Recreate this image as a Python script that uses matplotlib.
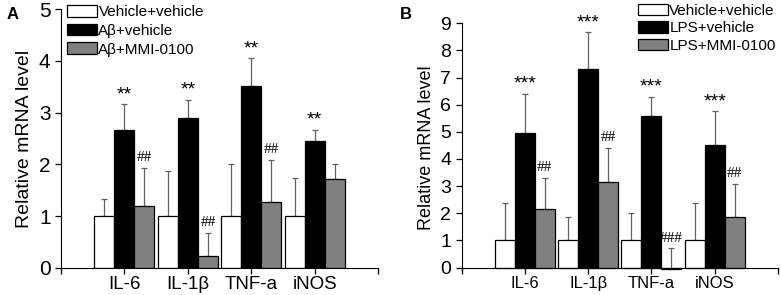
import numpy as np
import matplotlib
matplotlib.use("Agg")
import matplotlib.pyplot as plt
from matplotlib.patches import Patch

matplotlib.rcParams['font.family'] = 'Liberation Sans'

# ---------------- data ----------------
genes = ["IL-6", "IL-1β", "TNF-a", "iNOS"]

# panel A
a_labels = ["Vehicle+vehicle", "Aβ+vehicle", "Aβ+MMI-0100"]
a_veh = [1.0, 1.0, 1.0, 1.0]
a_veh_top = [1.33, 1.88, 2.01, 1.74]
a_ab = [2.67, 2.89, 3.52, 2.45]
a_ab_top = [3.16, 3.24, 4.05, 2.66]
a_mmi = [1.20, 0.23, 1.28, 1.72]
a_mmi_top = [1.93, 0.68, 2.09, 2.01]
a_star = ["**", "**", "**", "**"]
a_hash = ["##", "##", "##", ""]

# panel B
b_labels = ["Vehicle+vehicle", "LPS+vehicle", "LPS+MMI-0100"]
b_veh = [1.0, 1.0, 1.0, 1.0]
b_veh_top = [2.36, 1.87, 2.02, 2.37]
b_lps = [4.95, 7.31, 5.58, 4.53]
b_lps_top = [6.41, 8.66, 6.30, 5.75]
b_mmi = [2.15, 3.16, -0.05, 1.87]
b_mmi_top = [3.31, 4.42, 0.71, 3.07]
b_star = ["***", "***", "***", "***"]
b_hash = ["##", "##", "###", "##"]

colors = ["white", "black", "#808080"]
ecol = "#606060"
w = 0.316

fig = plt.figure(figsize=(7.81, 2.95), dpi=100)
axA = fig.add_axes([0.0781, 0.0925, 0.406, 0.876])
axB = fig.add_axes([0.591, 0.0793, 0.405, 0.842])


def draw(ax, series, tops, stars, hashes, ylim, ytick_fs, xtick_fs, ylab_fs):
    x = np.arange(1, len(genes) + 1)
    span = ylim[1] - ylim[0]
    for k, (vals, top) in enumerate(zip(series, tops)):
        xs = x + (k - 1) * w
        ax.bar(xs, vals, w, color=colors[k], edgecolor="black", linewidth=0.9, zorder=2)
        err = np.array(top) - np.array(vals)
        ax.errorbar(xs, vals, yerr=[np.zeros(len(vals)), err], fmt="none",
                    ecolor=ecol, elinewidth=0.9, capsize=2.2, capthick=0.9, zorder=1)
        if k == 1:
            for xi, t, s in zip(xs, top, stars):
                ax.text(xi, t + 0.005 * span, s, ha="center", va="bottom", fontsize=14)
        if k == 2:
            for xi, t, s in zip(xs, top, hashes):
                if s:
                    ax.text(xi, t + 0.015 * span, s, ha="center", va="bottom",
                            fontsize=11, family="Liberation Serif")
    ax.set_xlim(0, 5)
    ax.set_ylim(*ylim)
    ax.set_xticks([0, 1, 2, 3, 4, 5])
    ax.set_xticklabels([""] + genes + [""])
    ax.spines["top"].set_visible(False)
    ax.spines["right"].set_visible(False)
    ax.spines["bottom"].set_position(("data", 0))
    ax.tick_params(direction="out", length=4, width=0.9)
    ax.tick_params(axis="y", labelsize=ytick_fs)
    ax.tick_params(axis="x", labelsize=xtick_fs, pad=2)
    ax.set_ylabel("Relative mRNA level", fontsize=ylab_fs, labelpad=4)


draw(axA, [a_veh, a_ab, a_mmi], [a_veh_top, a_ab_top, a_mmi_top], a_star, a_hash,
     (0, 5), 15, 13.5, 14)
axA.set_yticks(range(0, 6))
draw(axB, [b_veh, b_lps, b_mmi], [b_veh_top, b_lps_top, b_mmi_top], b_star, b_hash,
     (-0.15, 9), 14, 12, 13)
axB.set_yticks(range(0, 10))

hA = [Patch(facecolor=c, edgecolor="black", linewidth=0.9) for c in colors]
axA.legend(hA, a_labels, loc="upper left", bbox_to_anchor=(0.085, 0.985),
           bbox_transform=fig.transFigure, frameon=False, fontsize=11,
           handlelength=1.95, handleheight=0.78, handletextpad=0.1,
           labelspacing=0.3, borderaxespad=0, borderpad=0.05)
hB = [Patch(facecolor=c, edgecolor="black", linewidth=0.9) for c in colors]
axB.legend(hB, b_labels, loc="upper left", bbox_to_anchor=(0.817, 0.987),
           bbox_transform=fig.transFigure, frameon=False, fontsize=11,
           handlelength=1.95, handleheight=0.78, handletextpad=0.1,
           labelspacing=0.22, borderaxespad=0, borderpad=0.0)

fig.text(0.008, 0.975, "A", fontsize=12, fontweight="bold", va="top")
fig.text(0.512, 0.975, "B", fontsize=12, fontweight="bold", va="top")

fig.savefig("out.png", dpi=100)
